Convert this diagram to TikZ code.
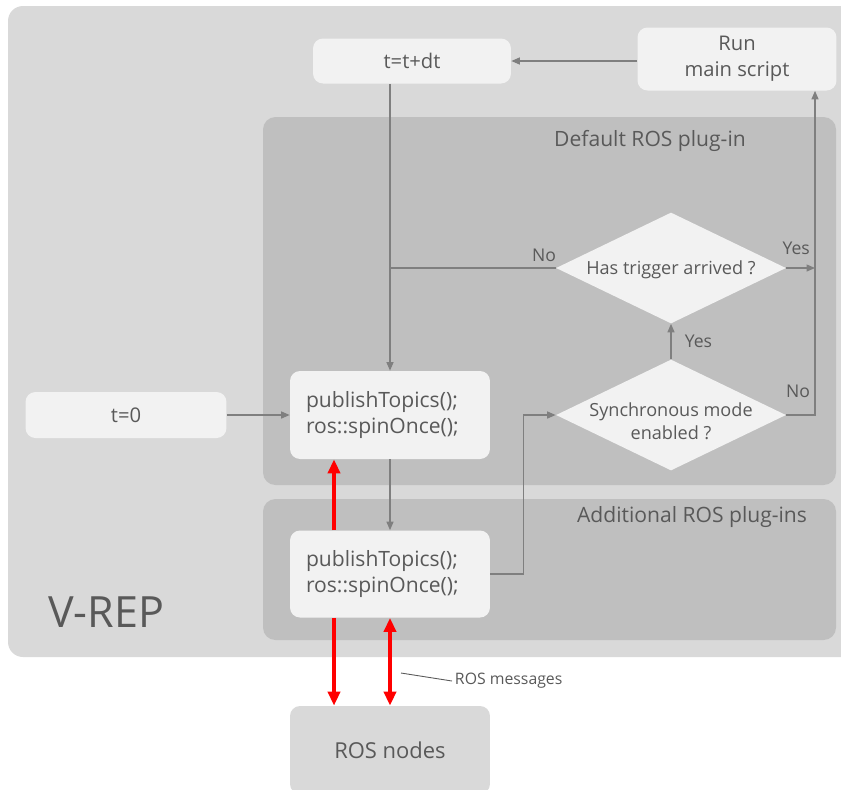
\documentclass[tikz,border=0pt]{standalone}
\usepackage{fontspec}
\setmainfont{Open Sans}
\usepackage{tikz}
\usetikzlibrary{positioning,shapes.geometric,arrows.meta}
\definecolor{panelLight}{HTML}{D9D9D9}
\definecolor{panelDark}{HTML}{BFBFBF}
\definecolor{boxFill}{HTML}{F2F2F2}
\definecolor{flowGray}{HTML}{7F7F7F}
\definecolor{textGray}{HTML}{595959}
\tikzstyle{StepBox} = [rectangle, rounded corners=0.2cm, fill=boxFill, text=textGray,
    font=\fontsize{11.5}{15}\selectfont, align=center, inner sep=0pt]
\tikzstyle{CallBox} = [StepBox, font=\fontsize{12}{15}\selectfont, text width=3.36cm, align=left,
    minimum width=4cm]
\tikzstyle{Decision} = [diamond, fill=boxFill, inner sep=0pt,
    minimum width=4.6cm, minimum height=2.22cm]
\tikzstyle{DecisionText} = [text=textGray, font=\fontsize{10.3}{13}\selectfont, align=center]
\tikzstyle{PanelTitle} = [text=textGray, font=\fontsize{12}{14}\selectfont]
\tikzstyle{AnswerLabel} = [text=textGray, font=\fontsize{10}{12}\selectfont, inner sep=1.5pt]
\tikzstyle{flowline} = [draw=flowGray, line width=0.7pt]
\tikzstyle{arrow} = [flowline, -{Triangle[length=0.17cm,width=0.14cm]}]
\tikzstyle{rosarrow} = [draw=red, line width=2pt, -{Triangle[length=0.28cm,width=0.24cm]}]
\begin{document}
\begin{tikzpicture}[x=0.02cm, y=-0.02cm]
    \useasboundingbox (0,0) rectangle (841,789);
    \fill[panelLight, rounded corners=0.3cm] (8,6) rectangle (880,657); %V-REP area
    \fill[panelDark, rounded corners=0.25cm] (263,117) rectangle (836,485); %default plug-in
    \fill[panelDark, rounded corners=0.25cm] (263,499) rectangle (836,640); %additional plug-ins
    \node[text=textGray, font=\fontsize{24.5}{28}\selectfont] (SimName) at (106,612) {V-REP};
    \node[PanelTitle] (DefaultTitle) at (650,141) {Default ROS plug-in};
    \node[PanelTitle] (AdditionalTitle) at (692,517) {Additional ROS plug-ins};

    \node[StepBox, minimum width=3.96cm, minimum height=0.9cm] (TimeStep) at (412,61) {t=t+dt};
    \node[StepBox, minimum width=3.98cm, minimum height=1.26cm] (RunScript) at (737,59) {Run\\main script};
    \node[StepBox, minimum width=4.02cm, minimum height=0.92cm] (TimeZero) at (126,415) {t=0};
    \node[CallBox, minimum height=1.76cm] (PublishMain) at (390,415) {publishTopics();\\ros::spinOnce();};
    \node[CallBox, minimum height=1.74cm] (PublishExtra) at (390,574) {publishTopics();\\ros::spinOnce();};
    \node[StepBox, fill=panelLight, font=\fontsize{12.5}{15}\selectfont, minimum width=4cm, minimum height=1.76cm] (RosNodes) at (390,750) {ROS nodes};
    \node[Decision, label={[DecisionText, yshift=-0.04cm]center:Has trigger arrived ?}] (Trigger) at (671,268) {};
    \node[Decision, label={[DecisionText, yshift=-0.12cm]center:Synchronous mode\\enabled ?}] (SyncMode) at (671,415) {};

    \coordinate (Merge) at (PublishMain |- Trigger.west);
    \coordinate (BusTrig) at (815,268);
    \coordinate (BusSync) at (815,415);

    \draw[arrow] (RunScript.west |- TimeStep) -- (TimeStep.east);
    \draw[arrow] (TimeStep.south -| PublishMain) -- (PublishMain.north);
    \draw[flowline] (Trigger.west) node[AnswerLabel, above left=2pt and -2pt] {No} -- (Merge);
    \draw[arrow] (Trigger.east) node[AnswerLabel, above right=6pt and -4pt] {Yes} -- (BusTrig);
    \draw[arrow] (SyncMode.east) node[AnswerLabel, above right=8pt and -2pt] {No} -- (BusSync) -- (BusSync |- RunScript.south);
    \draw[arrow] (SyncMode.north) -- node[AnswerLabel, right=6pt] {Yes} (Trigger.south);
    \draw[arrow] (TimeZero.east) -- (PublishMain.west);
    \draw[arrow] (PublishMain.south) -- (PublishExtra.north);
    \draw[arrow] (PublishExtra.east) -- ++(33,0) |- (SyncMode.west);

    \draw[rosarrow] ([xshift=-1.12cm]PublishExtra.north) -- ([xshift=-1.12cm]PublishMain.south);
    \draw[rosarrow] ([xshift=-1.12cm]PublishExtra.south) -- ([xshift=-1.12cm]RosNodes.north);
    \draw[rosarrow, {Triangle[length=0.28cm,width=0.24cm]}-{Triangle[length=0.28cm,width=0.24cm]}] (PublishExtra.south) -- (RosNodes.north);

    \coordinate (MsgTip) at (401,673);
    \node[AnswerLabel, font=\fontsize{9}{11}\selectfont, anchor=west] (MsgLabel) at (452,681) {ROS messages};
    \draw[draw=textGray, line width=0.5pt] (MsgTip) -- (MsgLabel.west);
\end{tikzpicture}
\end{document}
